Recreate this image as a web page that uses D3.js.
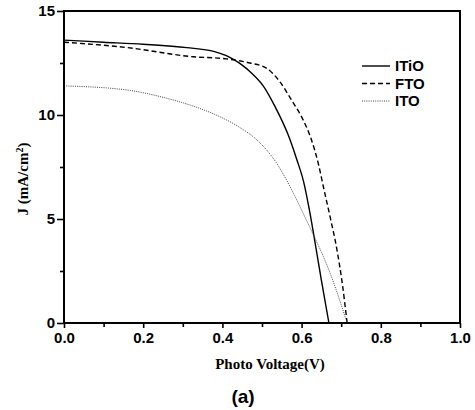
<!DOCTYPE html>
<html>
<head>
<meta charset="utf-8">
<script src="https://cdn.jsdelivr.net/npm/d3@7"></script>
<style>
  body { margin: 0; background: #fff; }
  svg { display: block; }
</style>
</head>
<body>
<svg id="canvas"></svg>
<script>
// J-V curves
const itioV = [0, 0.1, 0.2, 0.31, 0.38, 0.41, 0.43, 0.45, 0.47, 0.503, 0.533, 0.568, 0.588, 0.605, 0.62, 0.635, 0.65, 0.669];
const itioJ = [13.6, 13.5, 13.4, 13.24, 13.05, 12.85, 12.65, 12.4, 12.08, 11.4, 10.4, 8.95, 7.85, 6.8, 5.4, 3.75, 2.05, 0];

const ftoV = [0, 0.16, 0.326, 0.41, 0.444, 0.47, 0.512, 0.545, 0.575, 0.604, 0.625, 0.642, 0.655, 0.672, 0.689, 0.702, 0.715];
const ftoJ = [13.5, 13.24, 12.8, 12.7, 12.6, 12.5, 12.24, 11.6, 10.7, 9.76, 8.8, 7.68, 6.55, 5.1, 3.55, 2.0, 0];

const itoV = [0, 0.16, 0.26, 0.318, 0.402, 0.444, 0.487, 0.537, 0.571, 0.604, 0.62, 0.672, 0.715];
const itoJ = [11.4, 11.2, 10.8, 10.48, 9.84, 9.4, 8.8, 7.68, 6.55, 5.27, 4.63, 2.4, 0];

const seriesNames = ["ITiO", "FTO", "ITO"];
const xTicks = [0, 0.2, 0.4, 0.6, 0.8, 1.0];
const xMinorTicks = [0.1, 0.3, 0.5, 0.7, 0.9];
const yTicks = [0, 5, 10, 15];
const yMinorTicks = [2.5, 7.5, 12.5];

const width = 475;
const height = 410;
const plotLeft = 64;
const plotRight = 460;
const plotTop = 11;
const plotBottom = 323;

const canvas = d3.select("#canvas").attr("width", width).attr("height", height);

const xScale = d3.scaleLinear().domain([0, 1]).range([plotLeft, plotRight]);
const yScale = d3.scaleLinear().domain([0, 15]).range([plotBottom, plotTop]);

const styles = {
  ITiO: { width: 1.4, dash: null },
  FTO: { width: 1.4, dash: "5,3" },
  ITO: { width: 1, dash: "1,1.2" },
};

const series = [
  { name: "ITiO", v: itioV, j: itioJ },
  { name: "FTO", v: ftoV, j: ftoJ },
  { name: "ITO", v: itoV, j: itoJ },
];

const line = d3
  .line()
  .x((d) => xScale(d[0]))
  .y((d) => yScale(d[1]))
  .curve(d3.curveMonotoneX);

const drawCurves = () => {
  canvas
    .selectAll("path.curve")
    .data(series)
    .enter()
    .append("path")
    .attr("class", "curve")
    .attr("fill", "none")
    .attr("stroke", (d) => (d.name === "ITO" ? "#444" : "#000"))
    .attr("stroke-width", (d) => styles[d.name].width)
    .attr("stroke-dasharray", (d) => styles[d.name].dash)
    .attr("d", (d) => line(d.v.map((v, i) => [v, d.j[i]])));
};

const drawAxes = () => {
  const tickFont = "bold 15px 'Liberation Sans', Arial, sans-serif";

  const xAxis = d3.axisBottom(xScale).tickValues(xTicks).tickFormat(d3.format(".1f")).tickSize(5).tickPadding(4);
  const xMinor = d3.axisBottom(xScale).tickValues(xMinorTicks).tickFormat("").tickSize(4);
  const yAxis = d3.axisLeft(yScale).tickValues(yTicks).tickFormat(d3.format("d")).tickSize(7).tickPadding(2);
  const yMinor = d3.axisLeft(yScale).tickValues(yMinorTicks).tickFormat("").tickSize(4);

  const gx = canvas.append("g").attr("transform", `translate(0, ${plotBottom})`).call(xAxis);
  canvas.append("g").attr("transform", `translate(0, ${plotBottom})`).call(xMinor);
  const gy = canvas.append("g").attr("transform", `translate(${plotLeft}, 0)`).call(yAxis);
  canvas.append("g").attr("transform", `translate(${plotLeft}, 0)`).call(yMinor);

  canvas.selectAll(".domain").remove();
  canvas.selectAll(".tick line").attr("stroke", "#000").attr("stroke-width", 1.6);
  gx.selectAll("text").style("font", tickFont).attr("fill", "#000");
  gy.selectAll("text").style("font", tickFont).attr("fill", "#000");

  // frame
  canvas
    .append("rect")
    .attr("x", plotLeft)
    .attr("y", plotTop)
    .attr("width", plotRight - plotLeft)
    .attr("height", plotBottom - plotTop)
    .attr("fill", "none")
    .attr("stroke", "#000")
    .attr("stroke-width", 2);

  canvas
    .append("text")
    .attr("x", 270)
    .attr("y", 369)
    .attr("text-anchor", "middle")
    .style("font", "bold 15px 'Liberation Serif', 'Times New Roman', serif")
    .text("Photo Voltage(V)");

  const yLabel = canvas
    .append("text")
    .attr("transform", "translate(28, 179) rotate(-90)")
    .attr("text-anchor", "middle")
    .style("font", "bold 15px 'Liberation Serif', 'Times New Roman', serif");
  yLabel.append("tspan").text("J (mA/cm");
  yLabel.append("tspan").attr("dy", -5).style("font-size", "10px").text("2");
  yLabel.append("tspan").attr("dy", 5).text(")");

  canvas
    .append("text")
    .attr("x", 243)
    .attr("y", 403)
    .attr("text-anchor", "middle")
    .style("font", "bold 19px 'Liberation Sans', Arial, sans-serif")
    .text("(a)");
};

const drawLegend = () => {
  const rows = canvas
    .selectAll("g.legend")
    .data(seriesNames)
    .enter()
    .append("g")
    .attr("class", "legend")
    .attr("transform", (d, i) => `translate(0, ${66 + i * 17.5})`);

  rows
    .append("line")
    .attr("x1", 362)
    .attr("x2", 390)
    .attr("y1", 0)
    .attr("y2", 0)
    .attr("stroke", (d) => (d === "ITO" ? "#444" : "#000"))
    .attr("stroke-width", (d) => styles[d].width)
    .attr("stroke-dasharray", (d) => styles[d].dash);

  rows
    .append("text")
    .attr("x", 395)
    .attr("y", 5)
    .style("font", "bold 15px 'Liberation Sans', Arial, sans-serif")
    .text((d) => d);
};

drawCurves();
drawAxes();
drawLegend();
</script>
</body>
</html>
